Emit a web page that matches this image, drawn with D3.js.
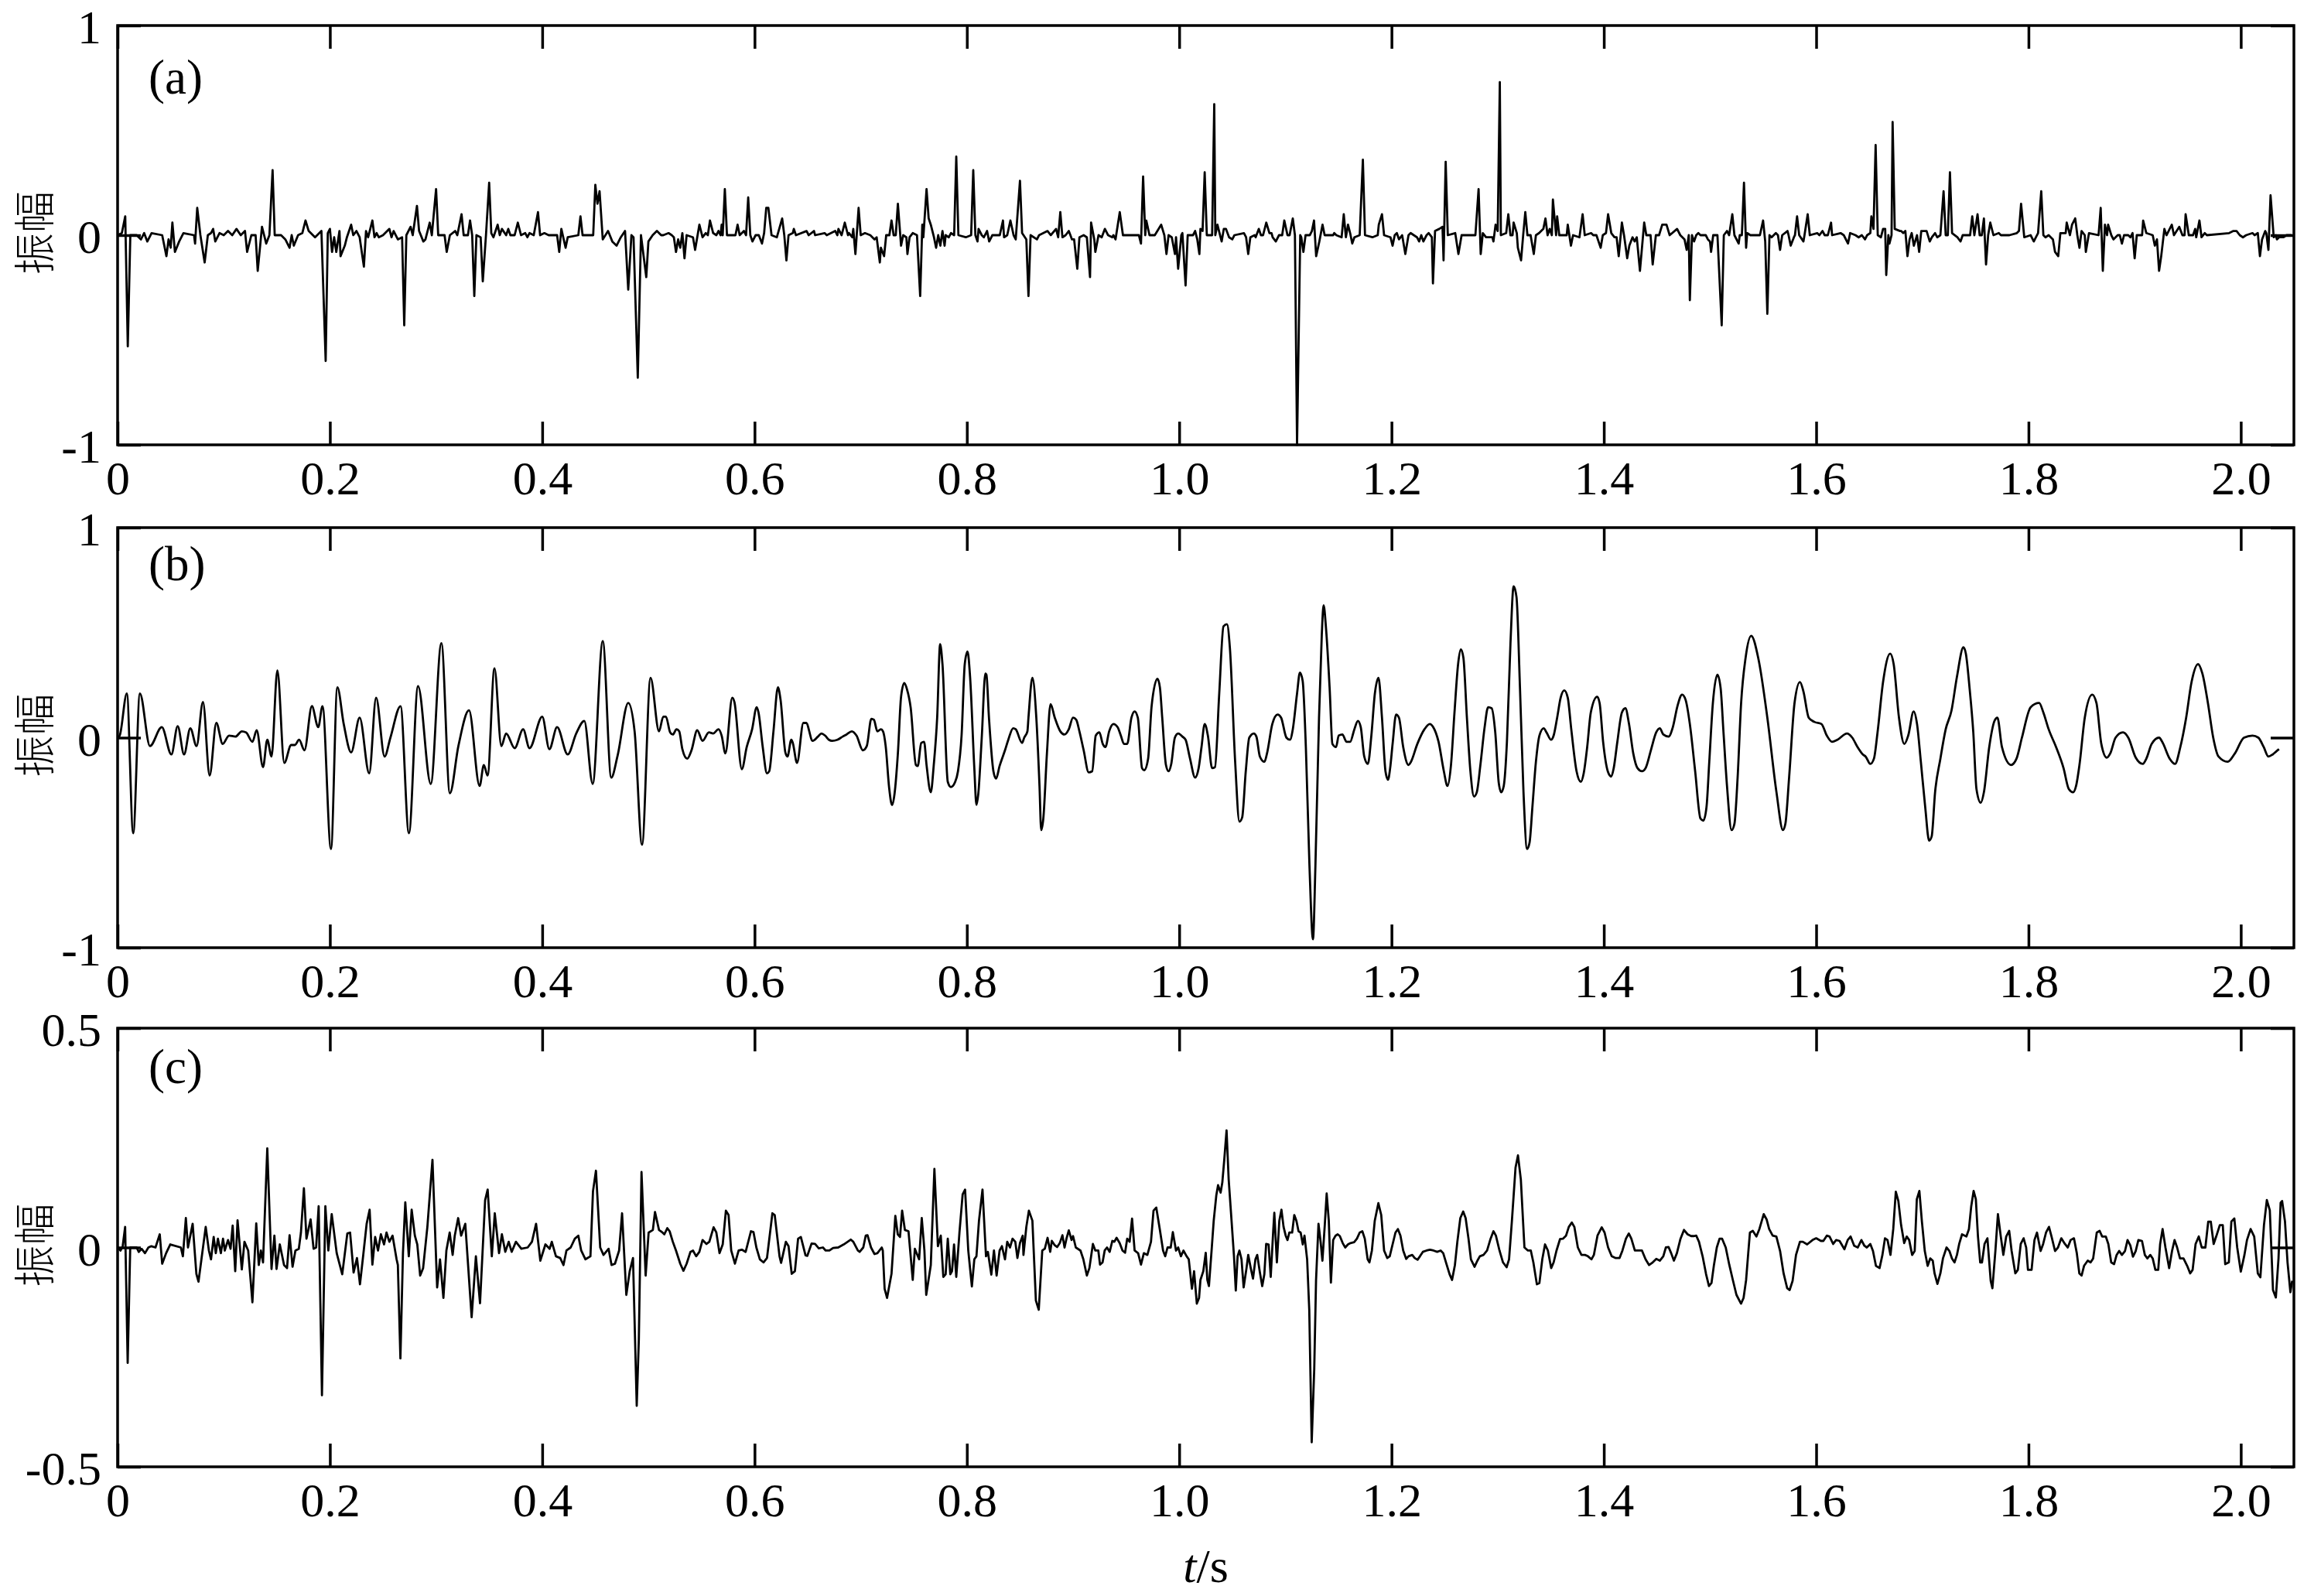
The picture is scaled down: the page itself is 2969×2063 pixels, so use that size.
<!DOCTYPE html>
<html><head><meta charset="utf-8">
<script src="https://cdn.jsdelivr.net/npm/d3@7"></script>
<style>
html,body{margin:0;padding:0;background:#fff;}
svg{display:block;}
</style></head><body>
<svg id="chart" width="2969" height="2063"></svg>
<script>
// ---------- data (time in ms, amplitude) ----------
const xTicks = [0, 0.2, 0.4, 0.6, 0.8, 1.0, 1.2, 1.4, 1.6, 1.8, 2.0];
const yTicksAB = [-1, 0, 1];
const yTicksC = [-0.5, 0, 0.5];
const panelLabels = ["(a)", "(b)", "(c)"];
const yLabel = "振幅";
const xLabelItalic = "t";
const xLabelRest = "/s";

const traceA = [[0,0],[4,0.01],[7.2,0.09],[9.6,-0.53],[12,0],[18,0],[22,-0.02],[25,0.01],[28,-0.03],[32,0.01],[42,0],[46,-0.10],[48,-0.02],[50,-0.06],[51.6,0.06],[54,-0.08],[58,-0.03],[62,0.01],[72,0],[73,-0.04],[75,0.13],[78,0],[82,-0.13],[85,0],[88,0.01],[90,0.03],[92,-0.03],[96,0.01],[100,0],[104,0.02],[108,0],[112,0.03],[116,0],[120,0.02],[122,-0.08],[126,0],[130,0],[132,-0.17],[136,0.04],[140,-0.04],[143,0],[146,0.31],[148,0],[154,0],[158,-0.02],[162,-0.06],[164,0],[166,-0.05],[170,0],[174,0.01],[177,0.07],[180,0.02],[186,-0.01],[192,0.02],[196,-0.60],[198,0.01],[200,0.03],[202,-0.08],[204,-0.01],[206,-0.08],[209,0.02],[210,-0.10],[214,-0.05],[216,-0.01],[220,0.05],[222,0],[225,0.02],[228,-0.01],[232,-0.15],[234,0.02],[236,-0.01],[238,0.03],[240,0.07],[242,-0.01],[244,0.01],[246,-0.01],[250,0],[256,0.03],[258,-0.01],[260,0.02],[264,-0.02],[268,-0.01],[270,-0.43],[272,0],[276,0.04],[278,0],[282,0.14],[284,0.02],[288,-0.03],[290,-0.02],[294,0.06],[296,0],[300,0.22],[302,0],[308,0],[310,-0.08],[313,0],[318,0.02],[320,0],[324,0.10],[326,0],[330,0],[332,0.07],[334,0],[336,-0.29],[338,0],[342,-0.01],[344,-0.22],[347,0],[350,0.25],[352,0.01],[354,-0.01],[358,0.05],[360,0],[362,0.03],[366,0],[368,0.03],[370,0],[374,0],[377,0.06],[380,0],[384,0.01],[386,-0.01],[388,0.01],[392,0],[396,0.11],[398,0],[402,0.01],[406,0],[414,0],[416,-0.08],[418,0.03],[422,-0.06],[424,-0.01],[434,0],[436,0.09],[438,0],[448,0],[450,0.24],[452,0.15],[454,0.21],[457,-0.02],[462,0.02],[466,-0.03],[470,-0.05],[474,-0.01],[478,0.02],[481,-0.26],[484,0],[486,-0.01],[490,-0.68],[493,0],[498,-0.20],[500,-0.03],[504,0],[508,0.02],[512,0],
[514,0],[519,0.01],[522,0],[524,-0.01],[526,-0.08],[528,-0.02],[530,-0.06],[532,0.01],[534,-0.11],[536,0],[542,-0.01],[544,-0.07],[548,0.05],[551,-0.01],[554,0.01],[556,0],[558,0.07],[561,0.01],[564,0],[566,0.02],[568,0],[569,0.05],[570,0],[572,0.22],[574,0],[582,0],[584,0.05],[586,0],[590,0.02],[592,0],[594,0.18],[596,0],[598,-0.03],[601,0],[604,0],[607,-0.04],[609,0.01],[611,0.13],[613,0.13],[616,0],[621,-0.01],[626,0.08],[628,0],[630,-0.12],[632,0],[636,0.01],[637,0.03],[639,0],[649,0.02],[651,0],[656,0.02],[657,0],[666,0.01],[668,0],[676,0.02],[678,0],[679,0.03],[682,0],[683,0.02],[685,0.06],[688,0],[689,0.01],[692,-0.01],[693,0.03],[695,-0.09],[698,0.13],[700,0],[704,0.01],[709,0],[713,-0.02],[715,-0.01],[718,-0.13],[719,-0.06],[722,-0.10],[724,0],[727,0],[729,0.07],[731,0],[733,0],[735,0.15],[738,-0.05],[740,0],[743,-0.01],[744,-0.09],[746,-0.01],[749,0.01],[753,0],[756,-0.29],[758,0.05],[759,-0.01],[762,0.22],[764,0.08],[766,0.05],[769,-0.01],[771,-0.06],[773,0],[775,-0.05],[777,0.02],[779,-0.05],[780,0],[783,-0.01],[785,0.01],[788,0],[790,0.375],[792,0],[799,-0.01],[804,0],[806,0.31],[808,0],[810,-0.03],[811,0.03],[814,0],[816,-0.01],[819,0.02],[821,-0.03],[824,0],[831,0],[834,0.07],[835,-0.01],[838,0],[841,0.07],[844,0],[846,-0.02],[850,0.26],[852,0.01],[856,-0.02],[858,-0.29],[860,0],[866,-0.02],[868,0],[876,0.02],[879,0],[884,0.03],[886,-0.01],[888,0.11],[890,-0.01],[893,0],[896,0.02],[899,-0.02],[901,-0.02],[904,-0.16],[906,-0.01],[910,0],[913,-0.01],[916,-0.20],[917,0.06],[920,-0.02],[921,-0.08],[924,0],[927,-0.01],[930,0.03],[933,0],[937,-0.01],[938,0],[940,-0.02],[944,0.11],[947,0],[962,0],[964,-0.04],[966,0.28],[968,0],[969,0.07],[972,0],[977,0],[983,0.05],[986,0],[988,-0.09],[990,0],[993,-0.01],[996,-0.09],[997,-0.01],[999,-0.16],[1002,0],[1003,0.01],[1006,-0.24],[1008,0],[1013,0],[1015,0.02],
[1017,-0.02],[1019,-0.09],[1020,0.03],[1022,0.02],[1024,0.30],[1026,0],[1031,0],[1033,0.625],[1034,0],[1036,0.05],[1038,0.01],[1040,-0.03],[1042,0.03],[1044,0.03],[1047,-0.01],[1050,-0.02],[1052,0],[1061,0.01],[1063,-0.01],[1065,-0.09],[1067,-0.01],[1071,0],[1072,-0.01],[1075,0.03],[1077,0],[1079,0],[1082,0.06],[1085,0.01],[1087,0.01],[1088,-0.01],[1091,-0.03],[1094,0],[1097,0],[1099,0.07],[1102,0],[1104,0],[1107,0.08],[1109,0],[1111,-1.0],[1114,0],[1115,-0.01],[1117,-0.08],[1119,0],[1123,0],[1125,0.02],[1127,0.07],[1129,-0.10],[1132,-0.03],[1135,0.05],[1137,0],[1145,0],[1146,0.01],[1148,0],[1153,-0.01],[1155,0.10],[1157,-0.01],[1159,0.05],[1161,0.01],[1163,-0.04],[1165,-0.01],[1170,0],[1173,0.36],[1175,0],[1182,-0.01],[1187,0],[1188,0.05],[1191,0.10],[1193,0],[1199,-0.01],[1201,-0.05],[1203,0],[1205,0.01],[1207,-0.02],[1210,0],[1213,-0.09],[1216,0],[1218,0.01],[1224,-0.01],[1226,-0.03],[1228,0],[1230,-0.03],[1233,0],[1235,0.01],[1238,-0.01],[1239,-0.23],[1241,0.02],[1245,0.03],[1248,0.04],[1249,-0.12],[1251,0.35],[1253,0],[1260,0.01],[1263,-0.09],[1266,0],[1279,0],[1282,0.22],[1284,-0.09],[1286,0.01],[1289,-0.01],[1295,-0.01],[1296,-0.03],[1298,0.05],[1300,0.02],[1302,0.73],[1303,0],[1308,0.01],[1310,0.10],[1312,0],[1314,0],[1315,0.06],[1318,0.01],[1319,-0.06],[1322,-0.12],[1324,0],[1326,0.11],[1328,0],[1331,0],[1334,-0.09],[1336,0],[1339,0.01],[1343,0.03],[1345,0.08],[1347,0],[1349,0.03],[1351,0],[1352,0.17],[1355,0],[1356,0.09],[1358,0],[1365,0],[1366,0.05],[1369,-0.05],[1371,0],[1377,-0.01],[1380,0.10],[1382,0],[1388,0.01],[1390,0],[1393,0],[1397,-0.06],[1399,0],[1402,0.01],[1404,0.10],[1407,0.01],[1410,-0.01],[1412,-0.01],[1414,-0.10],[1417,0.06],[1419,0],[1422,-0.11],[1424,-0.05],[1427,-0.01],[1429,-0.03],[1431,-0.01],[1434,-0.17],[1438,0.06],[1440,0],[1444,0],[1446,-0.14],[1449,0],[1452,0],[1455,0.05],[1459,0.05],[1462,0],[1469,0.03],[1472,0],[1476,-0.02],[1478,-0.07],[1480,0],[1481,-0.31],[1483,0],[1485,-0.03],[1487,0],[1489,0.01],[1491,0],[1496,0],[1498,-0.02],[1500,-0.03],[1501,-0.08],[1503,0],[1507,0],[1511,-0.43],[1513,0],[1516,0.02],[1518,0],[1521,0.10],[1523,0],[1527,-0.04],
[1528,0],[1530,0],[1532,0.25],[1534,-0.06],[1535,0.01],[1538,0],[1547,0],[1550,0.07],[1552,-0.03],[1554,-0.375],[1556,0],[1558,-0.01],[1562,0.01],[1564,0],[1566,-0.07],[1568,0],[1573,0.02],[1574,0],[1576,-0.05],[1579,-0.01],[1580,0],[1582,0.09],[1584,0],[1588,-0.03],[1589,0],[1592,0.10],[1594,0],[1601,0.01],[1603,0],[1606,0.02],[1608,0],[1611,0],[1614,0.06],[1615,0],[1623,0.01],[1626,0],[1630,-0.04],[1632,0.01],[1637,0],[1640,-0.01],[1643,0],[1646,-0.02],[1648,0],[1651,0.01],[1652,0.09],[1654,0.03],[1656,0.43],[1658,0],[1661,-0.01],[1663,0.03],[1665,0.03],[1666,-0.19],[1668,0],[1669,-0.04],[1671,0],[1672,0.54],[1674,0.03],[1679,0.02],[1680,0.02],[1682,0.01],[1684,0.02],[1686,-0.10],[1688,-0.02],[1690,0.01],[1692,-0.05],[1695,0],[1697,-0.08],[1699,0.02],[1704,0.02],[1707,-0.03],[1709,-0.01],[1712,0.01],[1714,-0.01],[1717,0],[1720,0.21],[1722,0],[1724,0],[1726,0.30],[1728,0.01],[1733,-0.01],[1736,-0.03],[1738,0],[1745,0],[1747,0.09],[1749,0],[1752,0.10],[1754,0],[1756,0],[1758,0.08],[1760,-0.14],[1762,0],[1764,0.06],[1767,0],[1772,0.01],[1774,0],[1782,0],[1789,0.01],[1791,0.02],[1793,0.15],[1796,-0.01],[1802,0],[1805,-0.03],[1807,-0.01],[1809,0.01],[1812,0.21],[1814,0],[1816,-0.01],[1819,0],[1823,-0.02],[1825,-0.08],[1828,-0.10],[1830,0.01],[1835,0.01],[1836,0.06],[1839,0],[1841,0.05],[1844,0.08],[1846,0],[1848,-0.06],[1850,0.02],[1853,0],[1854,-0.08],[1857,0.01],[1866,0],[1868,0.13],[1870,-0.17],[1872,0.05],[1874,0],[1875,0.05],[1878,0],[1880,-0.02],[1884,0],[1886,0],[1888,-0.04],[1890,0],[1894,0],[1896,-0.01],[1898,0.01],[1900,-0.11],[1902,0],[1907,0],[1908,0.07],[1911,0.01],[1917,0],[1919,-0.05],[1921,-0.02],[1923,-0.17],[1925,-0.10],[1928,0.03],[1930,0],[1932,0.02],[1935,0.05],[1937,0],[1942,0.04],[1945,0],[1947,0],[1948,0.10],[1951,0],[1955,0],[1957,0.03],[1958,-0.01],[1961,0.07],[1963,-0.01],[1966,0.01],[1968,0],[1989,0.01],[1993,0.02],[1996,0.02],[1999,0],[2002,-0.01],[2005,0],[2011,0.01],[2013,0],[2016,0.01],[2018,-0.10],[2020,-0.02],[2023,0.02],[2024,0.01],[2026,-0.07],[2028,0.19],[2031,-0.01],[2033,0],[2034,-0.02],[2036,-0.01],[2040,-0.01],[2043,0],[2048,0]];

const traceB = [[0,0],[2,0.01],[8.7,0.21],[14.7,-0.455],[21,0.21],[30.5,-0.04],[41.6,0.05],[50.7,-0.08],[56.6,0.055],[62.6,-0.08],[68.5,0.045],[74.4,-0.04],[80.4,0.17],[86.7,-0.18],[93,0.07],[99,-0.03],[105,0.01],[111,0.005],[117,0.03],[121,0.025],[127,-0.02],[131,0.035],[137,-0.14],[141,-0.01],[145,-0.09],[150.5,0.32],[157,-0.12],[163.5,-0.035],[167,-0.035],[171,-0.01],[176,-0.06],[183,0.15],[189,0.05],[193,0.15],[201,-0.53],[207,0.24],[213,0.065],[220,-0.07],[228,0.095],[237,-0.17],[243.5,0.19],[251.5,-0.09],[257,0],[266.5,0.15],[274.4,-0.455],[283,0.245],[295,-0.22],[305,0.45],[313,-0.265],[321,-0.04],[331,0.13],[341,-0.23],[345,-0.13],[348.5,-0.18],[355,0.33],[361.5,-0.04],[366,0.02],[374,-0.05],[382,0.04],[388,-0.05],[400,0.10],[406.7,-0.055],[414,0.05],[424,-0.08],[432,0.02],[439.6,0.08],[447.5,-0.22],[457,0.46],[465,-0.19],[471,-0.085],[481,0.165],[487,0.03],[494,-0.51],[502,0.285],
[510,0.03],[514,0.10],[516.5,0.10],[520.5,0.025],[523,0.015],[526.5,0.04],[529,0.03],[532,-0.055],[536.5,-0.10],[540.6,-0.06],[546,0.035],[551,-0.015],[557,0.025],[561,0.02],[566,0.04],[569,0.01],[572.5,-0.075],[579,0.19],[581,0.17],[588,-0.15],[592.6,-0.045],[597.7,0.04],[602,0.145],[603.7,0.12],[607.7,-0.045],[611.7,-0.17],[613.8,-0.16],[617.8,0.03],[622,0.24],[624.5,0.18],[629,-0.07],[631,-0.09],[634.6,-0.01],[636,-0.025],[640,-0.12],[646,0.07],[648.6,0.07],[654.7,-0.015],[659.7,0.005],[663,0.02],[666.4,0.01],[670,-0.01],[673,-0.015],[678,-0.01],[683,0.005],[686.6,0.015],[691.6,0.03],[696,0.01],[702,-0.06],[705.7,-0.04],[710,0.09],[712.4,0.085],[715.7,0.03],[719,0.04],[721,0.03],[723.5,-0.04],[726.8,-0.24],[729.5,-0.32],[731.9,-0.265],[735,-0.075],[738,0.195],[741,0.26],[743.6,0.23],[747,0.145],[752,-0.13],[753.7,-0.135],[757,-0.025],[759.7,-0.02],[762,-0.13],[766,-0.26],[768.8,-0.13],[772,0.095],[774.8,0.445],[777,0.35],[782,-0.21],[784.9,-0.235],[789,-0.21],[791.6,-0.16],[795,0.01],[798,0.35],[800.6,0.41],[803,0.29],[807,-0.145],[809,-0.32],[810.7,-0.27],[814,0],[817.4,0.305],[818.4,0.30],[820.8,0.095],[825,-0.16],[827.5,-0.195],[830.8,-0.135],[835.9,-0.06],[839,-0.01],[843.6,0.045],[846,0.04],[852,-0.025],[854,0],[857,0.03],[858,0.095],[861.7,0.285],[865.4,0.095],[868.4,-0.23],[870,-0.44],[872,-0.385],[875.4,-0.075],[878.8,0.16],[882.8,0.095],[888,0.03],[892,0.015],[896,0.04],[900,0.095],[903,0.085],[906,0.03],[910,-0.06],[914.7,-0.165],[918,-0.16],[921.4,0.01],[924.8,0.025],[928,-0.03],[930.5,-0.045],[934,0.03],[938,0.065],[942,0.05],[945,0.01],[948,-0.03],[951,-0.03],[955,0.095],[958,0.125],[961,0.095],[965,-0.145],[967,-0.155],[970.7,-0.10],[974,0.15],[979.5,0.28],[981.8,0.24],[984,0.095],[987.5,-0.13],[990,-0.16],[992.5,-0.125],[995.9,0],[999,0.02],[1003,0.005],[1006,-0.01],[1010,-0.095],[1015,-0.19],
[1018.3,-0.145],[1021,-0.045],[1024,0.065],[1027,0.01],[1031,-0.145],[1033.7,-0.14],[1037.7,0.21],[1041.7,0.53],[1045,0.54],[1047.7,0.43],[1052.7,-0.115],[1056.7,-0.40],[1059.3,-0.38],[1062.7,-0.16],[1066,0],[1070.3,0.02],[1072.7,0.005],[1076,-0.09],[1080.3,-0.115],[1082.7,-0.075],[1087.7,0.065],[1092.7,0.11],[1096,0.095],[1101,0],[1104.3,-0.01],[1107,0.04],[1111,0.21],[1113.7,0.31],[1116.3,0.27],[1119.3,-0.045],[1122.7,-0.61],[1126,-0.96],[1128.3,-0.61],[1131.7,0.095],[1134.3,0.49],[1136,0.63],[1138.3,0.52],[1141.7,0.235],[1144.3,-0.03],[1147.7,-0.045],[1150.3,0.01],[1153.7,0.015],[1157.7,-0.02],[1161,-0.02],[1165,0.04],[1168.3,0.08],[1171,0.05],[1174.3,-0.09],[1177.7,-0.125],[1181,0.01],[1184.3,0.21],[1187.7,0.285],[1191,0.095],[1194.3,-0.16],[1196.7,-0.20],[1198.7,-0.145],[1201,-0.03],[1204.3,0.11],[1207,0.095],[1211,-0.045],[1216,-0.13],[1218.3,-0.115],[1224.3,-0.03],[1231,0.04],[1236,0.065],[1239.3,0.05],[1244.3,-0.02],[1249.3,-0.16],[1252.7,-0.23],[1256,-0.13],[1259.3,0.12],[1262.7,0.35],[1265.3,0.42],[1267.7,0.38],[1271,0.095],[1274.3,-0.16],[1277.7,-0.28],[1280.3,-0.26],[1283.7,-0.13],[1287.7,0.05],[1291,0.145],[1294.3,0.14],[1297.7,0.025],[1301,-0.215],[1303.3,-0.26],[1305.7,-0.23],[1308.7,-0.02],[1312,0.445],[1315,0.72],[1317.7,0.67],[1321,0.235],[1324.3,-0.26],[1327.7,-0.53],[1330,-0.50],[1332.7,-0.33],[1336,-0.115],[1339.3,0.01],[1343.3,0.045],[1346,0.025],[1350.3,-0.01],[1352.7,0.01],[1356,0.095],[1359.3,0.19],[1362.7,0.225],[1366,0.19],[1369.3,0.04],[1374.3,-0.16],[1378.3,-0.21],[1381,-0.17],[1384.3,-0.045],[1387.7,0.12],[1393.7,0.195],[1396,0.165],[1399.3,-0.02],[1403.7,-0.16],[1407,-0.185],[1409.3,-0.145],[1412.7,-0.02],[1417,0.12],[1420.3,0.14],[1423.7,0.065],[1427.7,-0.075],[1431.7,-0.145],[1436,-0.16],[1439.3,-0.145],[1444.3,-0.06],[1449.3,0.025],[1452.7,0.045],[1456,0.015],[1461,0.005],[1465,0.05],[1469.3,0.15],[1473.7,0.205],[1477,0.18],[1481,0.065],[1486,-0.16],[1491,-0.385],[1493.7,-0.395],[1496.7,-0.33],[1499.3,-0.115],[1502.7,0.165],[1507,0.30],[1510,0.235],[1512.7,0.025],[1516,-0.23],[1520.3,-0.44],[1523,-0.41],[1526,-0.19],[1529.3,0.165],[1533.5,0.38],[1538.8,0.485],[1545.6,0.375],[1554,0.095],[1562.6,-0.26],[1568.7,-0.44],[1571,-0.41],[1574.5,-0.19],[1579.6,0.165],[1584.7,0.265],[1588,0.22],[1593,0.095],[1598.3,0.075],[1605,0.065],[1610,0.01],[1615,-0.02],[1620,-0.01],[1629,0.02],[1634,0],[1639,-0.045],[1644,-0.08],[1646.6,-0.09],[1651,-0.125],[1654.4,-0.10],[1657.8,0.025],[1663,0.265],[1669.7,0.40],[1673,0.35],[1678,0.095],[1683,-0.03],[1686.7,0.01],[1691.8,0.125],[1695,0.065],[1698.6,-0.115],[1702.7,-0.33],[1706.4,-0.49],[1708.8,-0.47],[1712,-0.26],[1717,-0.10],[1722,0.04],[1727.5,0.13],[1732.6,0.29],[1738.7,0.43],[1741,0.40],[1744.5,0.235],[1748,0.025],[1751,-0.245],[1755,-0.31],[1758,-0.26],[1763,-0.045],[1768,0.08],[1770.7,0.095],[1775,-0.045],[1783.6,-0.13],[1788.7,-0.10],[1793.8,0],[1802,0.145],[1810,0.165],[1814,0.12],[1819,0.04],[1826,-0.045],[1833,-0.145],[1838,-0.245],[1842,-0.26],[1844.8,-0.23],[1848,-0.13],[1853,0.095],[1860,0.205],[1864,0.165],[1868.6,-0.03],[1873.7,-0.095],[1877,-0.075],[1882,0],[1889,0.025],[1894,0],[1901,-0.095],[1907.7,-0.125],[1911,-0.10],[1916,-0.03],[1923,0],[1926,-0.02],[1933,-0.10],[1938,-0.125],[1943,-0.045],[1948.5,0.095],[1953.6,0.265],[1959.7,0.35],[1963.8,0.305],[1969,0.165],[1974,0],[1979,-0.09],[1987.6,-0.115],[1994.4,-0.075],[2003,0],[2011,0.01],[2016.5,0],[2021.6,-0.045],[2026,-0.09],[2030,-0.08],[2033.5,-0.065],[2036,-0.055]];

const traceC = [[0,0],[2.8,-0.007],[4.8,0.003],[7.1,0.047],[9.5,-0.263],[11.9,0],[17.9,0],[19.9,-0.01],[22.6,-0.003],[25.8,-0.013],[29,0],[31.8,0.003],[35.7,0],[39.7,0.03],[42,-0.037],[45.7,-0.013],[49.6,0.007],[59.6,0],[61.5,-0.02],[64.3,0.067],[66.3,0],[70.7,0.054],[74.2,-0.06],[76.2,-0.078],[83,0.047],[86,-0.007],[88,-0.027],[90.5,0.024],[92.5,-0.013],[94.5,0.02],[97.3,-0.013],[99.3,0.02],[101,-0.007],[104,0.017],[106.4,-0.003],[108.4,0.05],[110.8,-0.054],[113,0.062],[117,-0.05],[119.5,0.013],[123,-0.007],[127,-0.125],[130.6,0.055],[133,-0.04],[135,-0.007],[137,-0.034],[141,0.226],[145,-0.049],[147.7,0.027],[149.7,-0.049],[152.8,0.007],[156.8,-0.04],[159.6,-0.047],[162,0.028],[164.8,-0.044],[167.5,-0.007],[170.7,-0.003],[172.7,0.034],[175.5,0.135],[177.9,0.02],[181.8,0.064],[184.6,-0.003],[187,0],[189.4,0.094],[192.5,-0.337],[195.7,0.094],[198.5,-0.007],[201.7,0.076],[206.4,-0.013],[211.6,-0.061],[216.4,0.032],[219,0.034],[222.3,-0.057],[225.5,-0.024],[228.3,-0.084],[231.5,-0.015],[234.6,0.054],[237.4,0.086],[240,-0.039],[242.6,0.024],[245.3,-0.007],[248,0.03],[251,0.007],[253.3,0.034],[256,0.013],[259,0.027],[262.8,-0.027],[264,-0.04],[266.4,-0.253],[268.8,-0.013],[271,0.103],[274.3,-0.02],[277,0.086],[280,0.027],[282.3,0.007],[285,-0.064],[287.8,-0.047],[291.8,0.047],[296.6,0.20],[301,-0.091],[303.7,-0.027],[306.9,-0.115],[309.7,-0.007],[312.8,0.034],[315.6,-0.017],[317.6,0.027],[320.8,0.067],[323.6,0.027],[327.5,0.054],[333.5,-0.159],[337.5,-0.02],[341.4,-0.127],[346.2,0.108],[348.6,0.132],[352.5,-0.02],[355.3,0.078],[359.3,-0.013],[362,0.03],[365.2,-0.01],[368.4,0.013],[371.2,-0.01],[375.2,0.013],[380.3,-0.003],[386.3,0],[390.3,0.013],[394.2,0.054],[398.2,-0.03],[403,0.007],[407,-0.003],[409,0.013],[412.9,-0.02],[416.9,-0.024],[420,-0.04],[422.8,-0.007],[426.8,0],[430.7,0.02],[434,0.027],[436.7,-0.007],[440.7,-0.027],[445.4,-0.02],[447.8,0.128],[450.6,0.175],[454.6,0],[457.7,-0.017],[462.5,-0.003],[465.3,-0.04],[468.5,-0.037],[472.4,-0.007],[475.2,0.078],[479.2,-0.108],[482.4,-0.054],[485.5,-0.024],[489,-0.361],[491,-0.209],[493.5,0.172],[497.4,-0.064],[500.2,0.034],[504.2,0.04],[506.2,0.081],[510,0.04],[513.3,0.034],
[515,0.03],[517.8,0.044],[520,0.037],[523,0.013],[526,-0.007],[530,-0.037],[533,-0.053],[536,-0.037],[539.6,-0.01],[542,-0.007],[545,-0.02],[548,-0.01],[551,0.017],[554.7,0.008],[557.4,0.013],[561.4,0.046],[564,0.034],[567,-0.013],[570,0.007],[573,0.084],[575.5,0.074],[578,-0.007],[581.5,-0.037],[585,-0.007],[588,-0.005],[591.6,-0.01],[596.6,0.037],[599,0.035],[601.7,0],[605,-0.027],[608.4,-0.034],[611.7,-0.024],[616.8,0.078],[619,0.074],[623.5,-0.02],[625,-0.035],[629.5,0.013],[632,0.003],[635,-0.06],[638,-0.054],[641,0.02],[643.6,0.024],[648,-0.018],[649.7,-0.019],[653.7,0.009],[657,0.008],[660.5,-0.002],[664.4,0],[667,-0.007],[670.5,-0.007],[674,-0.001],[678.8,0],[684,0.007],[690.6,0.018],[693,0.013],[697.3,-0.007],[699,-0.01],[702.4,0],[704.7,0.027],[706.4,0.028],[709.7,0],[713,-0.015],[715.7,-0.013],[719.8,0],[720.8,-0.007],[722.5,-0.094],[724.8,-0.115],[729,-0.06],[732.6,0.072],[734.9,0.03],[737,0.024],[739,0.084],[741.6,0.04],[745,0.037],[749,-0.074],[751,-0.003],[755,-0.027],[757.5,0.067],[760,-0.007],[761.7,-0.108],[766,-0.04],[769.4,0.179],[772.7,0.003],[775.4,0.027],[777.8,-0.067],[780,-0.061],[782,0.02],[784.4,-0.061],[786,-0.054],[787.9,0.007],[790,-0.067],[793,0.034],[796,0.121],[798.3,0.132],[801.3,-0.007],[804.7,-0.089],[807,-0.027],[809,-0.02],[811.4,0.061],[814.7,0.132],[818,-0.02],[819.8,-0.01],[823,-0.062],[825.5,-0.007],[828,-0.064],[830.8,-0.007],[833,0.003],[835.9,-0.027],[838,0.013],[840.6,0],[843,0.02],[845.6,0.013],[847.6,-0.024],[850,0.01],[852.6,0.027],[853.3,-0.017],[856,0.047],[858.4,0.084],[861.7,0.061],[865,-0.121],[867.7,-0.142],[871,-0.007],[873.4,-0.003],[876,0.022],[878.5,-0.01],[880,0.015],[882.8,0.005],[885,0.001],[887.5,0.01],[890,0.028],[892,0],[894,0.022],[896,0.039],[898.6,0.017],[900,0.026],[902.6,0],[907,-0.007],[909.7,-0.027],[913,-0.064],[915.4,-0.047],[918.7,0.008],[921,-0.007],[923.8,-0.007],[925.4,-0.039],[927.8,-0.034],[929.8,-0.007],[932,0],[934.5,-0.01],[937,0.015],[938.9,0.013],[941,0.022],[943.9,0.01],[946.6,-0.007],[949,-0.012],[951,0.02],[953.3,0.013],[955.6,0.066],[958,-0.007],[961.3,-0.013],[964,-0.039],[966.7,-0.013],[970,-0.017],[973.4,0.013],[975.8,0.084],[978.4,0.091],[981.8,0.04],[984.8,-0.007],[986.8,-0.02],[989,0],[992,0],[994,0.035],[997,-0.007],[999,0],[1001.6,-0.02],[1004,-0.007],[1007,-0.02],[1009,-0.027],[1012,-0.094],[1014,-0.054],[1016.6,-0.128],[1018.7,-0.115],[1020,-0.074],[1022.7,-0.054],[1025,-0.012],
[1026.5,-0.074],[1028,-0.088],[1030.5,-0.007],[1032.5,0.061],[1034.9,0.118],[1036.6,0.142],[1039,0.125],[1040.6,0.148],[1042.3,0.196],[1044.6,0.267],[1046.6,0.155],[1049.3,0.061],[1051.6,-0.02],[1053.3,-0.098],[1055,-0.02],[1056.7,-0.007],[1058.7,-0.027],[1060.7,-0.091],[1063.4,-0.047],[1065,-0.017],[1067.4,-0.047],[1069.5,-0.071],[1071.8,-0.027],[1073.5,-0.017],[1075.8,-0.054],[1078.2,-0.088],[1080.2,-0.061],[1081.9,0.008],[1084.2,0.007],[1086.2,-0.067],[1088.6,0.04],[1089.6,0.079],[1092,-0.034],[1094.3,0.061],[1096.3,0.086],[1098.3,0.047],[1100.3,0.027],[1102,0.017],[1103.7,0.034],[1106.4,0.034],[1108.4,0.074],[1110.4,0.061],[1112.4,0.037],[1114.4,0.034],[1116.4,0.007],[1118,0.027],[1120.5,-0.027],[1122.5,-0.142],[1124.8,-0.444],[1127.2,-0.277],[1128.9,-0.074],[1131.2,0.054],[1133.2,0.013],[1134.9,-0.03],[1137.2,0.054],[1138.9,0.123],[1140.9,0.061],[1142.9,-0.08],[1145,0.017],[1147.3,0.027],[1149.3,0.03],[1151.3,0.026],[1154,0.01],[1156.4,0],[1159,0.007],[1161.4,0.01],[1164.8,0.012],[1167.4,0.02],[1170,0.034],[1172.5,0.037],[1174.8,0.02],[1177.5,-0.027],[1179.2,-0.034],[1181.5,-0.007],[1184.2,0.061],[1187.6,0.101],[1190.3,0.074],[1193,-0.007],[1196,-0.024],[1198.3,-0.02],[1201,0.007],[1203.7,0.034],[1206,0.042],[1208.4,0.027],[1211,-0.007],[1213.8,-0.026],[1216,-0.02],[1219.5,-0.017],[1221.8,-0.024],[1224.5,-0.028],[1226.8,-0.02],[1229.5,-0.01],[1232.9,-0.007],[1236.2,-0.005],[1239.6,-0.007],[1243,-0.01],[1246.3,-0.007],[1248.7,-0.013],[1251.3,-0.034],[1254.7,-0.061],[1257,-0.074],[1259.7,-0.04],[1262,0.013],[1264.8,0.067],[1267.5,0.082],[1269.8,0.067],[1272.5,0.02],[1274.8,-0.027],[1278.2,-0.044],[1280.9,-0.03],[1283.2,-0.02],[1286.6,-0.017],[1290,-0.007],[1293.3,0.02],[1296,0.037],[1298.3,0.027],[1301.7,-0.007],[1305,-0.034],[1308.4,-0.045],[1310.7,-0.027],[1313.4,0.061],[1316.8,0.182],[1319.1,0.21],[1321.8,0.155],[1325.2,0],[1328.5,-0.007],[1331.2,-0.007],[1333.6,-0.034],[1336.9,-0.084],[1339.3,-0.081],[1342,-0.027],[1344.6,0.007],[1347.3,-0.007],[1350.4,-0.047],[1352.7,-0.034],[1355.4,-0.007],[1358.7,0.019],[1361.4,0.02],[1364.4,0.027],[1367,0.047],[1369.8,0.057],[1372.2,0.047],[1375.5,0],[1378.9,-0.017],[1382.2,-0.017],[1385,-0.02],[1388.3,-0.027],[1390.6,-0.017],[1394,0.027],[1398,0.046],[1400.7,0.034],[1404,0],[1407.4,-0.02],[1410.8,-0.024],[1414.8,-0.024],[1417.5,-0.007],[1420.8,0.02],[1423.5,0.032],[1425.9,0.02],[1429.2,-0.007],[1431.9,-0.007],[1435.9,-0.007],[1439.3,-0.027],[1442.6,-0.04],[1446,-0.034],[1449.4,-0.026],[1452.7,-0.03],[1456,-0.02],[1458.4,0],[1461,0.001],[1463.4,-0.013],[1466,-0.03],[1468.8,-0.013],[1472.2,0.02],[1475.5,0.04],[1478.9,0.03],[1482.2,0.026],[1484.6,0.026],[1487,0.027],[1489.6,0.013],[1493,-0.02],[1496.3,-0.061],[1499,-0.088],[1501.4,-0.081],[1503.7,-0.04],[1506.4,0],[1509,0.02],[1511.4,0.02],[1514.8,0],[1518.2,-0.04],[1521.5,-0.074],[1524.9,-0.108],[1529.2,-0.128],[1531.6,-0.115],[1534,-0.074],[1536,-0.013],
[1537.6,0.034],[1540.3,0.038],[1543.7,0.025],[1546.5,0.042],[1550.6,0.076],[1553.3,0.064],[1555.7,0.042],[1559,0.027],[1562.5,0.025],[1566,-0.008],[1569.3,-0.059],[1572.7,-0.093],[1575,-0.097],[1577.8,-0.076],[1581,-0.017],[1584.7,0.013],[1587.4,0.013],[1591.5,0.007],[1596.6,0.017],[1600,0.021],[1604.4,0.015],[1606.8,0.015],[1610,0.027],[1612.6,0.025],[1616,0.008],[1618.8,0.017],[1622,0.015],[1626.6,-0.004],[1629.7,0.017],[1632.4,0.025],[1635.8,0.004],[1639.2,0],[1642.6,0.017],[1645.4,0.004],[1647.7,0],[1651,0.008],[1653.5,-0.008],[1656.3,-0.042],[1659.7,-0.047],[1662.4,-0.017],[1664.8,0.021],[1667.2,0.017],[1670,-0.017],[1672.6,0.042],[1675,0.127],[1677.4,0.106],[1680,0.051],[1682.9,0.01],[1685.3,0.025],[1687.6,0.017],[1690.4,-0.017],[1692.8,-0.008],[1694.8,0.11],[1697.2,0.129],[1699.6,0.059],[1702.3,-0.008],[1705,-0.042],[1707.4,-0.025],[1709.8,-0.03],[1711.5,-0.059],[1714.2,-0.083],[1717,-0.059],[1719.4,-0.025],[1722.8,0],[1725.5,-0.008],[1727.9,-0.025],[1730.3,-0.034],[1732.6,-0.017],[1734.7,0.008],[1737.4,0.03],[1741.5,0.025],[1743.9,0.042],[1746,0.093],[1748.3,0.129],[1750.4,0.11],[1752.4,0.025],[1754.5,-0.034],[1756.2,-0.034],[1758.6,0.008],[1761.3,0.021],[1764.4,-0.076],[1766,-0.093],[1768.8,-0.008],[1771.2,0.076],[1773.9,0.025],[1776.3,-0.017],[1779,0.025],[1781.8,0.038],[1784.1,-0.008],[1787.6,-0.059],[1790,-0.051],[1792.7,0.008],[1795.4,0.021],[1797.8,0],[1799.5,-0.051],[1802.9,-0.051],[1805.6,0.017],[1808,0.034],[1811.4,-0.008],[1813.8,0.008],[1816.5,0.034],[1819.3,0.047],[1821.7,0.025],[1825,-0.008],[1827.8,0],[1830.9,0.021],[1834.3,0.008],[1837,0],[1839.7,0.017],[1842.8,0.021],[1845.5,-0.013],[1847.9,-0.059],[1850,-0.064],[1852.3,-0.042],[1855.8,-0.03],[1858.5,-0.034],[1860.9,-0.025],[1864.3,0.034],[1867,0.038],[1869.4,0.025],[1872.8,0.025],[1875.2,0.008],[1877.9,-0.034],[1880.6,-0.038],[1883,-0.017],[1885.4,-0.008],[1888,-0.017],[1890.9,-0.008],[1893.3,0.017],[1896,0.004],[1898.4,-0.021],[1901,-0.008],[1903.5,0.017],[1906.9,0.015],[1909.6,-0.017],[1912,-0.025],[1914.7,-0.017],[1917,-0.025],[1919.5,-0.051],[1922.2,-0.051],[1924,0.008],[1926.3,0.042],[1929,0],[1932.5,-0.047],[1935.2,-0.008],[1937.6,0.017],[1940,0],[1942.7,-0.025],[1946,-0.025],[1949.5,-0.042],[1952.3,-0.059],[1954.6,-0.051],[1957.4,0.008],[1960.4,0.025],[1963.2,0],[1966.6,0],[1969.3,0.059],[1971.7,0.059],[1974.4,0.008],[1976.8,0.025],[1980.2,0.051],[1983,0.051],[1985.3,-0.038],[1988.7,-0.034],[1991.1,0.059],[1993.9,0.066],[1996.6,0],[2000,-0.055],[2003.4,-0.017],[2005.8,0.017],[2009.2,0.042],[2012.6,0.025],[2016,-0.059],[2018.4,-0.068],[2021.8,0.051],[2024.5,0.108],[2027.3,0.085],[2030.3,-0.097],[2033,-0.114],[2035.5,-0.025],[2037.5,0.102],[2038.9,0.106],[2041.6,0.059],[2044,-0.034],[2046.7,-0.102],[2048.4,-0.076]];

// ---------- drawing ----------
const FONT = "'Liberation Serif','Times New Roman',Times,serif";
const CJK = "'Noto Sans CJK SC','Noto Sans CJK JP',sans-serif";
const svg = d3.select("#chart");
svg.append("rect").attr("width", 2969).attr("height", 2063).attr("fill", "#fff");

const X0 = 152, X1 = 2965;
const x = d3.scaleLinear().domain([0, 2.05]).range([X0, X1]);
const fmtX = d => d === 0 ? "0" : d.toFixed(1);

const panels = [
  {data: traceA, label: panelLabels[0], top: 33,   bottom: 575,  domain: [-1, 1],     ticks: yTicksAB, curve: d3.curveLinear,     labelY: 121},
  {data: traceB, label: panelLabels[1], top: 682,  bottom: 1225, domain: [-1, 1],     ticks: yTicksAB, curve: d3.curveMonotoneX,  labelY: 750},
  {data: traceC, label: panelLabels[2], top: 1329, bottom: 1896, domain: [-0.5, 0.5], ticks: yTicksC,  curve: d3.curveLinear,     labelY: 1400}
];

panels.forEach(p => {
  const y = d3.scaleLinear().domain(p.domain).range([p.bottom, p.top]);
  const g = svg.append("g");

  const gb = g.append("g").attr("transform", `translate(0,${p.bottom})`)
    .call(d3.axisBottom(x).tickValues(xTicks).tickFormat(fmtX).tickSizeInner(-30).tickSizeOuter(0).tickPadding(20));
  const gt = g.append("g").attr("transform", `translate(0,${p.top})`)
    .call(d3.axisTop(x).tickValues(xTicks).tickFormat("").tickSizeInner(-30).tickSizeOuter(0));
  const gl = g.append("g").attr("transform", `translate(${X0},0)`)
    .call(d3.axisLeft(y).tickValues(p.ticks).tickFormat(d => String(d)).tickSizeInner(-30).tickSizeOuter(0).tickPadding(21));
  const gr = g.append("g").attr("transform", `translate(${X1},0)`)
    .call(d3.axisRight(y).tickValues(p.ticks).tickFormat("").tickSizeInner(-30).tickSizeOuter(0));

  [gb, gt, gl, gr].forEach(a => {
    a.select(".domain").remove();
    a.selectAll(".tick line").attr("stroke", "#000").attr("stroke-width", 3.5);
    a.selectAll(".tick text").attr("font-family", FONT).attr("font-size", 62).attr("fill", "#000");
  });
  gl.selectAll(".tick text").attr("dy", "0.37em");

  const line = d3.line().x(d => x(d[0] / 1000)).y(d => y(d[1])).curve(p.curve);
  g.append("path").datum(p.data).attr("d", line)
    .attr("fill", "none").attr("stroke", "#000").attr("stroke-width", 2.8)
    .attr("stroke-linejoin", "round");

  g.append("rect").attr("x", X0).attr("y", p.top).attr("width", X1 - X0).attr("height", p.bottom - p.top)
    .attr("fill", "none").attr("stroke", "#000").attr("stroke-width", 3.5);

  g.append("text").attr("x", 192).attr("y", p.labelY).text(p.label)
    .attr("font-family", FONT).attr("font-size", 63).attr("fill", "#000");

  g.append("text")
    .attr("transform", `translate(41,${(p.top + p.bottom) / 2 - 3}) rotate(-90)`)
    .attr("text-anchor", "middle").attr("dominant-baseline", "central")
    .attr("font-family", CJK).attr("font-weight", 300).attr("font-size", 54).attr("fill", "#000")
    .text(yLabel);
});

const xt = svg.append("text").attr("x", (X0 + X1) / 2).attr("y", 2045).attr("text-anchor", "middle")
  .attr("font-family", FONT).attr("font-size", 62).attr("fill", "#000");
xt.append("tspan").attr("font-style", "italic").text(xLabelItalic);
xt.append("tspan").text(xLabelRest);
</script>
</body></html>
